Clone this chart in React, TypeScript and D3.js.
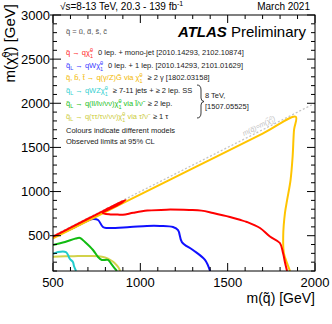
import React from "react";
import * as d3 from "d3";

// exclusion contours, [m(squark), m(neutralino)] in GeV
const redMonojet = [
  [500, 490], [600, 591], [700, 692], [800, 793], [915, 906],
  [880, 856], [786, 757], [830, 741], [870, 740], [900, 737], [960, 760],
  [1040, 784], [1150, 795], [1280, 791], [1350, 784], [1416, 757],
  [1513, 712], [1570, 680], [1610, 655], [1685, 587], [1742, 490],
  [1799, 417], [1817, 304], [1828, 200], [1840, 100],
];
const blueOneLep = [
  [500, 485], [626, 598], [700, 670], [729, 689], [758, 678], [786, 598],
  [809, 587], [941, 598], [1038, 610], [1113, 610], [1187, 598], [1216, 564],
  [1238, 428], [1301, 338], [1370, 225], [1399, 100],
];
const goldPhoton = [
  [500, 470], [900, 868], [1300, 1262], [1700, 1656], [1890, 1847],
  [1880, 1700], [1872, 1400], [1860, 1130], [1840, 900], [1828, 757],
  [1818, 500], [1822, 300], [1840, 190], [1857, 100],
];
const cyanSS = [
  [500, 293], [529, 315], [574, 315], [586, 281], [597, 236], [614, 202],
  [620, 157], [632, 100],
];
const greenSlep = [
  [500, 394], [569, 428], [630, 468], [655, 474], [683, 428], [729, 338],
  [758, 259], [780, 225], [815, 225], [838, 168], [866, 100],
];
const oliveStau = [
  [500, 262], [620, 268], [712, 270], [780, 262], [815, 240], [840, 210],
  [855, 185], [875, 140], [884, 100],
];

const xTicks = [500, 1000, 1500, 2000];
const yTicks = [500, 1000, 1500, 2000, 2500, 3000];

type Part = [string, string];
const legendRows: { color: string; parts: Part[]; tail: string }[] = [
  { color: "#ff2a2a", parts: [["q\u0303 \u2192 q\u03c7\u0303", ""], ["0", "^_1"]], tail: "0 lep. + mono-jet [2010.14293, 2102.10874]" },
  { color: "#3a3aff", parts: [["q\u0303", ""], ["L", "_"], [" \u2192 qW\u03c7\u0303", ""], ["0", "^_1"]], tail: "0 lep. + 1 lep. [2010.14293, 2101.01629]" },
  { color: "#f2b800", parts: [["q\u0303, b\u0303, t\u0303 \u2192 q(\u03b3/Z)G\u0303 via \u03c7\u0303", ""], ["0", "^_1"]], tail: "\u2265 2 \u03b3 [1802.03158]" },
  { color: "#33d0d0", parts: [["q\u0303", ""], ["L", "_"], [" \u2192 qWZ\u03c7\u0303", ""], ["0", "^_1"]], tail: "\u2265 7-11 jets + \u2265 2 lep. SS" },
  { color: "#22c022", parts: [["q\u0303", ""], ["L", "_"], [" \u2192 q(ll/l\u03bd/\u03bd\u03bd)\u03c7\u0303", ""], ["0", "^_1"], [" via l\u0303/\u03bd\u0303", ""]], tail: "\u2265 2 lep." },
  { color: "#cccc3c", parts: [["q\u0303", ""], ["L", "_"], [" \u2192 q(\u03c4\u03c4/\u03c4\u03bd/\u03bd\u03bd)\u03c7\u0303", ""], ["0", "^_1"], [" via \u03c4\u0303/\u03bd\u0303", ""]], tail: "\u2265 1 \u03c4" },
];
const rowY = [55, 68, 80, 93, 106, 119];

const W = 332;
const H = 324;
const left = 53, right = 315, top = 15, bottom = 271;
const FONT = "'Liberation Sans', Arial, Helvetica, sans-serif";

function renderParts(parts: Part[]) {
  const out: React.ReactNode[] = [];
  let shift = 0;
  parts.forEach(([t, mode], i) => {
    if (mode === "") {
      out.push(<tspan key={i} dy={-shift} fontSize={7.5}>{t}</tspan>);
      shift = 0;
    } else if (mode === "_") {
      out.push(<tspan key={i} dy={2 - shift} fontSize={5.5}>{t}</tspan>);
      shift = 2;
    } else {
      const sub = mode.slice(2);
      out.push(<tspan key={i + "a"} dy={-3 - shift} fontSize={5.5}>{t}</tspan>);
      out.push(<tspan key={i + "b"} dx={-3.1} dy={5.5} fontSize={5.5}>{sub}</tspan>);
      shift = 2.5;
    }
  });
  return { out, shift };
}

export default function App() {
  const x = d3.scaleLinear().domain([500, 2000]).range([left, right]);
  const y = d3.scaleLinear().domain([100, 3000]).range([bottom, top]);
  const line = d3
    .line<number[]>()
    .x((d) => x(d[0]))
    .y((d) => y(d[1]))
    .curve(d3.curveCatmullRom.alpha(0.5));

  const curves = [
    { data: oliveStau, color: "#d2d24a" },
    { data: cyanSS, color: "#22cccc" },
    { data: greenSlep, color: "#11bb11" },
    { data: blueOneLep, color: "#1010ff" },
    { data: goldPhoton, color: "#ffc400" },
    { data: redMonojet, color: "#ff0000" },
  ];

  const xMinor = d3.range(500, 2001, 100);
  const yMinor = d3.range(100, 3001, 100);
  const angle = (Math.atan2(y(500) - y(2000), x(2000) - x(500)) * 180) / Math.PI;
  const lx = x(1685), ly = y(1685) - 3;

  return (
    <svg width={W} height={H} style={{ position: "absolute", left: 0, top: 0, background: "#fff" }} fontFamily={FONT}>
      <defs>
        <clipPath id="plot">
          <rect x={left} y={top} width={right - left} height={bottom - top} />
        </clipPath>
      </defs>

      {/* diagonal kinematic limit */}
      <line x1={x(500)} y1={y(500)} x2={x(2000)} y2={y(2000)} stroke="#c4c4c4" strokeWidth={1.3} strokeDasharray="2,2" />
      <text transform={`translate(${lx},${ly}) rotate(${-angle})`} textAnchor="middle" fontSize={7} fill="#c0c0c0" fontStyle="italic">
        m(q{"\u0303"})=m({"\u03c7\u0303"}<tspan dy={-2.5} fontSize={5}>0</tspan><tspan dx={-2.8} dy={4.5} fontSize={5}>1</tspan><tspan dy={-2} fontSize={7}>)</tspan>
      </text>

      <g clipPath="url(#plot)" fill="none">
        {curves.map((c, i) => (
          <path key={i} d={line(c.data) || ""} stroke={c.color} strokeWidth={2} strokeLinejoin="round" />
        ))}
      </g>

      {/* frame and ticks */}
      <rect x={left} y={top} width={right - left} height={bottom - top} fill="none" stroke="#000" strokeWidth={1} />
      {xMinor.map((v) => {
        const major = v % 500 === 0;
        const len = major ? 8 : 4;
        return (
          <g key={"x" + v} stroke="#000" strokeWidth={1}>
            <line x1={x(v)} x2={x(v)} y1={bottom} y2={bottom - len} />
            <line x1={x(v)} x2={x(v)} y1={top} y2={top + len} />
          </g>
        );
      })}
      {yMinor.map((v) => {
        const major = v % 500 === 0;
        const len = major ? 8 : 4;
        return (
          <g key={"y" + v} stroke="#000" strokeWidth={1}>
            <line x1={left - (major ? 3 : 0)} x2={left + len} y1={y(v)} y2={y(v)} />
            <line x1={right} x2={right - len} y1={y(v)} y2={y(v)} />
          </g>
        );
      })}
      {xTicks.map((v) => (
        <text key={"xl" + v} x={x(v)} y={287} textAnchor="middle" fontSize={13}>{v}</text>
      ))}
      {yTicks.map((v) => (
        <text key={"yl" + v} x={50} y={y(v) + 4.5} textAnchor="end" fontSize={13}>{v}</text>
      ))}

      {/* axis titles */}
      <text x={right} y={303} textAnchor="end" fontSize={14}>m(q{"\u0303"}) [GeV]</text>
      <text transform="translate(14.5,4) rotate(-90)" textAnchor="end" fontSize={15}>
        m({"\u03c7\u0303"}<tspan dy={-4.5} fontSize={10}>0</tspan><tspan dx={-5.5} dy={8} fontSize={10}>1</tspan><tspan dy={-3.5} fontSize={15}>) [GeV]</tspan>
      </text>

      {/* header */}
      <text x={60} y={10} fontSize={10}>
        {"\u221a"}s=8-13 TeV, 20.3 - 139 fb<tspan dy={-4} fontSize={7}>-1</tspan>
      </text>
      <text x={310} y={10} textAnchor="end" fontSize={10}>March 2021</text>
      <text x={306} y={37} textAnchor="end" fontSize={15}>
        <tspan fontWeight="bold" fontStyle="italic" fontSize={15}>ATLAS</tspan>
        <tspan fontSize={15}> Preliminary</tspan>
      </text>

      {/* legend */}
      <text x={66} y={34} fontSize={7.5} fill="#555">q{"\u0303"} = u{"\u0303"}, d{"\u0303"}, s{"\u0303"}, c{"\u0303"}</text>
      {legendRows.map((r, i) => {
        const { out, shift } = renderParts(r.parts);
        return (
          <text key={"lg" + i} x={66} y={rowY[i]} fontSize={7.5} fill={r.color}>
            {out}
            <tspan dx={5} dy={-shift} fill="#222" fontSize={7.5}>{r.tail}</tspan>
          </text>
        );
      })}
      <path d="M197,85 Q201,85 201,90 L201,98 Q201,101 204,101.5 Q201,102 201,105 L201,113 Q201,118 197,118" fill="none" stroke="#222" strokeWidth={0.9} />
      <text x={205} y={98} fontSize={7.5} fill="#222">8 TeV,</text>
      <text x={205} y={109} fontSize={7.5} fill="#222">[1507.05525]</text>
      <text x={66} y={132.5} fontSize={7.5} fill="#222">Colours indicate different models</text>
      <text x={66} y={144} fontSize={7.5} fill="#222">Observed limits at 95% CL</text>
    </svg>
  );
}
